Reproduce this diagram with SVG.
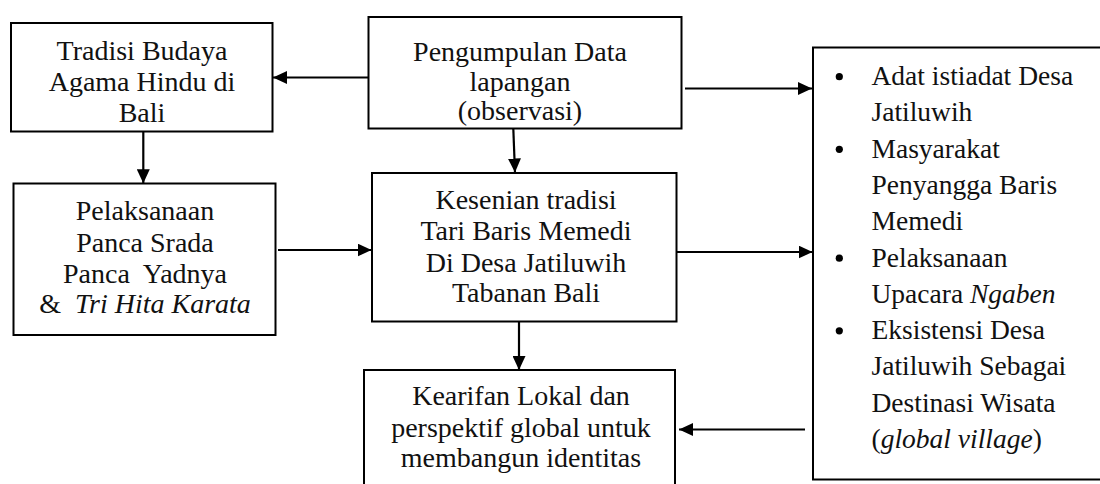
<svg xmlns="http://www.w3.org/2000/svg" width="1100" height="484" viewBox="0 0 1100 484">
<style>
.box{fill:#fff;stroke:#000;stroke-width:2}
.t{font-family:"Liberation Serif","Times New Roman",serif;font-size:28px;fill:#111;text-anchor:middle}
.l{font-family:"Liberation Serif","Times New Roman",serif;font-size:27.5px;fill:#111}
.c{stroke:#000;stroke-width:2.2;fill:none}
</style>
<defs>
<marker id="ah" markerUnits="userSpaceOnUse" markerWidth="14" markerHeight="13" refX="14" refY="6.5" orient="auto">
<path d="M0,0 L14,6.5 L0,13 z" fill="#000"/>
</marker>
</defs>
<rect width="1100" height="484" fill="#fff"/>
<g id="n1">
<rect class="box" x="11" y="23" width="261.5" height="108.5"/>
<text class="t" x="142" y="60">Tradisi Budaya</text>
<text class="t" x="142" y="91">Agama Hindu di</text>
<text class="t" x="142" y="121.5">Bali</text>
</g>
<g id="n2">
<rect class="box" x="368.5" y="17" width="313" height="111.5"/>
<text class="t" x="520" y="61">Pengumpulan Data</text>
<text class="t" x="520" y="91">lapangan</text>
<text class="t" x="520" y="120">(observasi)</text>
</g>
<g id="n3">
<rect class="box" x="372" y="173" width="304.5" height="148.5"/>
<text class="t" x="526" y="209">Kesenian tradisi</text>
<text class="t" x="526" y="240">Tari Baris Memedi</text>
<text class="t" x="526" y="271.5">Di Desa Jatiluwih</text>
<text class="t" x="526" y="301.5">Tabanan Bali</text>
</g>
<g id="n4">
<rect class="box" x="13.5" y="183.5" width="262" height="151.5"/>
<text class="t" x="145" y="220">Pelaksanaan</text>
<text class="t" x="145" y="251.5">Panca Srada</text>
<text class="t" x="145" y="283" xml:space="preserve">Panca  Yadnya</text>
<text class="t" x="145" y="313" xml:space="preserve">&amp;  <tspan font-style="italic">Tri Hita Karata</tspan></text>
</g>
<g id="n5">
<rect class="box" x="364" y="370" width="311" height="130"/>
<text class="t" x="521" y="405">Kearifan Lokal dan</text>
<text class="t" x="521" y="437">perspektif global untuk</text>
<text class="t" x="521" y="466.5">membangun identitas</text>
</g>
<g id="n6">
<rect class="box" x="813" y="47.5" width="300" height="432"/>
<circle cx="839.3" cy="76.7" r="3.6"/>
<circle cx="839.3" cy="149.3" r="3.6"/>
<circle cx="839.3" cy="258.2" r="3.6"/>
<circle cx="839.3" cy="330.8" r="3.6"/>
<text class="l" x="871.5" y="85">Adat istiadat Desa</text>
<text class="l" x="871.5" y="121.3">Jatiluwih</text>
<text class="l" x="871.5" y="157.6">Masyarakat</text>
<text class="l" x="871.5" y="193.9">Penyangga Baris</text>
<text class="l" x="871.5" y="230.2">Memedi</text>
<text class="l" x="871.5" y="266.5">Pelaksanaan</text>
<text class="l" x="871.5" y="302.8">Upacara <tspan font-style="italic">Ngaben</tspan></text>
<text class="l" x="871.5" y="339.1">Eksistensi Desa</text>
<text class="l" x="871.5" y="375.4">Jatiluwih Sebagai</text>
<text class="l" x="871.5" y="411.7">Destinasi Wisata</text>
<text class="l" x="871.5" y="448">(<tspan font-style="italic">global village</tspan>)</text>
</g>
<g id="connectors">
<line class="c" x1="368" y1="77.5" x2="273" y2="77.5" marker-end="url(#ah)"/>
<line class="c" x1="685" y1="88.5" x2="812" y2="88.5" marker-end="url(#ah)"/>
<line class="c" x1="513.3" y1="128.5" x2="515" y2="172.5" marker-end="url(#ah)"/>
<line class="c" x1="143.3" y1="131.5" x2="143.3" y2="183.3" marker-end="url(#ah)"/>
<line class="c" x1="278" y1="250" x2="371.5" y2="250" marker-end="url(#ah)"/>
<line class="c" x1="676.5" y1="252" x2="812.5" y2="252" marker-end="url(#ah)"/>
<line class="c" x1="519" y1="321.5" x2="519" y2="370" marker-end="url(#ah)"/>
<line class="c" x1="805" y1="429.5" x2="679" y2="429.5" marker-end="url(#ah)"/>
</g>
</svg>
